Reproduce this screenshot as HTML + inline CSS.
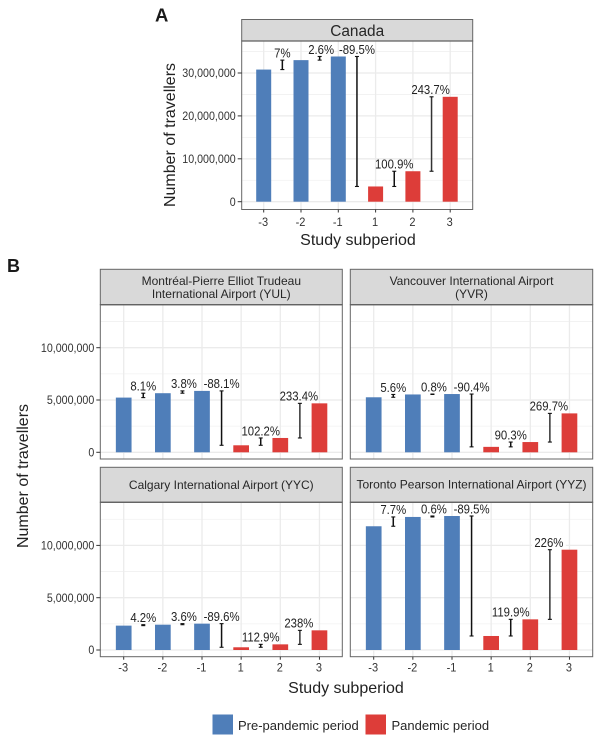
<!DOCTYPE html>
<html lang="en">
<head>
<meta charset="utf-8">
<title>Number of travellers by study subperiod</title>
<style>
html,body{margin:0;padding:0;background:#fff;}
svg{display:block;font-family:"Liberation Sans",sans-serif;filter:blur(0.3px);}
</style>
</head>
<body>
<svg id="chart" xmlns="http://www.w3.org/2000/svg" width="600" height="750" viewBox="0 0 600 750"></svg>
<script>
const categories = ['-3', '-2', '-1', '1', '2', '3'];
const canadaValues = [30.8, 33.0, 33.85, 3.55, 7.1, 24.45];
const yulValues = [5.23, 5.65, 5.87, 0.67, 1.37, 4.68];
const yvrValues = [5.26, 5.53, 5.57, 0.52, 0.98, 3.72];
const yycValues = [2.33, 2.42, 2.52, 0.26, 0.54, 1.88];
const yyzValues = [11.83, 12.72, 12.81, 1.34, 2.93, 9.59];
const canadaLabels = ['7%', '2.6%', '-89.5%', '100.9%', '243.7%'];
const yulLabels = ['8.1%', '3.8%', '-88.1%', '102.2%', '233.4%'];
const yvrLabels = ['5.6%', '0.8%', '-90.4%', '90.3%', '269.7%'];
const yycLabels = ['4.2%', '3.6%', '-89.6%', '112.9%', '238%'];
const yyzLabels = ['7.7%', '0.6%', '-89.5%', '119.9%', '226%'];
const canadaTicks = [0, 10, 20, 30];
const canadaTickLabels = ['0', '10,000,000', '20,000,000', '30,000,000'];
const airportTicks = [0, 5, 10];
const airportTickLabels = ['0', '5,000,000', '10,000,000'];
const haloLabels = ['238%', '226%'];

const NS = 'http://www.w3.org/2000/svg';
const svg = document.getElementById('chart');
const BLUE = '#4f7eb9', RED = '#dd3d39', BORDER = '#666', STRIP = '#d9d9d9', GRID = '#ebebeb';

function el(tag, attrs, name, parent) {
  const node = document.createElementNS(NS, tag);
  for (const k in attrs) node.setAttribute(k, attrs[k]);
  
  
  (parent || svg).appendChild(node);
  return node;
}
function txt(str, attrs, name, squeeze, parent) {
  const node = el('text', attrs, name, parent);
  node.textContent = str;
  if (squeeze && squeeze !== 1) {
    const w = node.getComputedTextLength();
    node.setAttribute('textLength', (w * squeeze).toFixed(2));
    node.setAttribute('lengthAdjust', 'spacingAndGlyphs');
  }
  return node;
}

function drawPanel(cfg) {
  const g = el('g', {}, 'panel-' + cfg.key);
  const xScale = i => cfg.x0 + i * cfg.dx;
  const yScale = v => cfg.y0 - v * cfg.unit;

  el('rect', {x: cfg.left, y: cfg.top, width: cfg.right - cfg.left, height: cfg.bottom - cfg.top, fill: '#fff'}, 'panel-background', g);

  // minor + major horizontal grid
  const step = cfg.ticks[1] - cfg.ticks[0];
  for (let v = step / 2; yScale(v) > cfg.top; v += step) {
    el('line', {x1: cfg.left, x2: cfg.right, y1: yScale(v), y2: yScale(v), stroke: '#f1f1f1', 'stroke-width': 0.8}, 'minor-gridline', g);
  }
  for (let v = 0; yScale(v) > cfg.top; v += step) {
    el('line', {x1: cfg.left, x2: cfg.right, y1: yScale(v), y2: yScale(v), stroke: GRID, 'stroke-width': 1.3}, 'major-gridline', g);
  }
  categories.forEach((c, i) => {
    el('line', {x1: xScale(i), x2: xScale(i), y1: cfg.top, y2: cfg.bottom, stroke: GRID, 'stroke-width': 1.3}, 'vertical-gridline', g);
  });

  // bars
  cfg.values.forEach((v, i) => {
    el('rect', {x: xScale(i) - cfg.barW / 2, y: yScale(v), width: cfg.barW, height: yScale(0) - yScale(v), fill: i < 3 ? BLUE : RED}, 'bar-' + cfg.key + '-' + categories[i], g);
  });

  // change brackets and labels
  cfg.labels.forEach((lab, i) => {
    const a = cfg.values[i], b = cfg.values[i + 1];
    const x = (xScale(i) + xScale(i + 1)) / 2;
    const yt = yScale(Math.max(a, b)), yb = yScale(Math.min(a, b));
    el('line', {x1: x, x2: x, y1: yt, y2: yb, stroke: i === 4 ? '#333' : '#111', 'stroke-width': 1.5}, 'change-bracket', g);
    el('line', {x1: x - 2, x2: x + 2, y1: yt, y2: yt, stroke: '#111', 'stroke-width': 1.1}, 'change-bracket-cap', g);
    el('line', {x1: x - 2, x2: x + 2, y1: yb, y2: yb, stroke: '#111', 'stroke-width': 1.1}, 'change-bracket-cap', g);
    const lx = x + (i === 1 ? 1.5 : (i === 4 ? -1 : 0));
    const ly = yt - 2.7;
    if (haloLabels.includes(lab)) {
      el('rect', {x: lx - 17, y: ly - 11, width: 34, height: 13, fill: '#fff'}, 'label-background', g);
    }
    txt(lab, {x: lx, y: ly, 'text-anchor': 'middle', 'font-size': 13.2, fill: '#222'}, 'change-label', 0.86, g);
  });

  // strip
  el('rect', {x: cfg.left, y: cfg.stripTop, width: cfg.right - cfg.left, height: cfg.top - cfg.stripTop, fill: STRIP, stroke: BORDER, 'stroke-width': 1}, 'strip-background', g);
  cfg.title.forEach((t, i) => {
    txt(t, {x: (cfg.left + cfg.right) / 2, y: cfg.titleY + i * cfg.titleLead, 'text-anchor': 'middle', 'font-size': cfg.titleSize, fill: '#262626'}, 'strip-title', 1, g);
  });
  el('line', {x1: cfg.left, x2: cfg.right, y1: cfg.top, y2: cfg.top, stroke: '#444', 'stroke-width': 1.2}, 'strip-divider', g);

  // border
  el('rect', {x: cfg.left, y: cfg.top, width: cfg.right - cfg.left, height: cfg.bottom - cfg.top, fill: 'none', stroke: BORDER, 'stroke-width': 1}, 'panel-border', g);

  // y axis
  if (cfg.showY) {
    cfg.ticks.forEach((v, i) => {
      el('line', {x1: cfg.left - 4, x2: cfg.left, y1: yScale(v), y2: yScale(v), stroke: '#333', 'stroke-width': 1}, 'y-tick', g);
      txt(cfg.tickLabels[i], {x: cfg.left - 6, y: yScale(v) + 4.2, 'text-anchor': 'end', 'font-size': 11.6, fill: '#333'}, 'y-tick-label', 0.92, g);
    });
  }
  // x axis
  if (cfg.showX) {
    categories.forEach((c, i) => {
      el('line', {x1: xScale(i), x2: xScale(i), y1: cfg.bottom, y2: cfg.bottom + 3, stroke: '#333', 'stroke-width': 1}, 'x-tick', g);
      txt(c, {x: xScale(i) - 0.5, y: cfg.bottom + cfg.xGap, 'text-anchor': 'middle', 'font-size': 11.6, fill: '#333'}, 'x-tick-label', 0.95, g);
    });
  }
}

drawPanel({key:'canada', values:canadaValues, labels:canadaLabels, ticks:canadaTicks, tickLabels:canadaTickLabels,
  left:241.7, right:472.7, stripTop:19.5, top:41, bottom:209.5, x0:263.7, dx:37.3, barW:15, y0:201.7, unit:4.29, xGap:16.5,
  title:['Canada'], titleY:36, titleLead:0, titleSize:15.4, showY:true, showX:true});

const airport = {ticks:airportTicks, tickLabels:airportTickLabels, dx:39.15, barW:15.7, unit:10.46, xGap:15, titleSize:12, titleLead:13};

drawPanel(Object.assign({}, airport, {key:'yul', values:yulValues, labels:yulLabels,
  left:100.3, right:342.3, stripTop:269.3, top:304.7, bottom:459, x0:123.7, y0:452.3,
  title:['Montréal-Pierre Elliot Trudeau','International Airport (YUL)'], titleY:285, showY:true, showX:false}));
drawPanel(Object.assign({}, airport, {key:'yvr', values:yvrValues, labels:yvrLabels,
  left:350.3, right:592.7, stripTop:269.3, top:304.7, bottom:459, x0:373.7, y0:452.3,
  title:['Vancouver International Airport','(YVR)'], titleY:285, showY:false, showX:false}));
drawPanel(Object.assign({}, airport, {key:'yyc', values:yycValues, labels:yycLabels,
  left:100.3, right:342.3, stripTop:467.3, top:502.3, bottom:656.7, x0:123.7, y0:650,
  title:['Calgary International Airport (YYC)'], titleY:489, showY:true, showX:true}));
drawPanel(Object.assign({}, airport, {key:'yyz', values:yyzValues, labels:yyzLabels,
  left:350.3, right:592.7, stripTop:467.3, top:502.3, bottom:656.7, x0:373.7, y0:650,
  title:['Toronto Pearson International Airport (YYZ)'], titleY:488.5, showY:false, showX:true}));

// Panel letters
txt('A', {x:155, y:21.7, 'font-size':18.5, 'font-weight':'bold', fill:'#1a1a1a'}, 'panel-letter-a', 1);
txt('B', {x:7, y:272, 'font-size':18, 'font-weight':'bold', fill:'#1a1a1a'}, 'panel-letter-b', 1);

// Axis titles
txt('Study subperiod', {x:358, y:245, 'text-anchor':'middle', 'font-size':16, fill:'#222'}, 'x-axis-title-a', 1);
txt('Number of travellers', {x:0, y:0, transform:'translate(175,135) rotate(-90)', 'text-anchor':'middle', 'font-size':16, fill:'#222'}, 'y-axis-title-a', 1);
txt('Study subperiod', {x:346, y:693, 'text-anchor':'middle', 'font-size':16, fill:'#222'}, 'x-axis-title-b', 1);
txt('Number of travellers', {x:0, y:0, transform:'translate(28,476) rotate(-90)', 'text-anchor':'middle', 'font-size':16, fill:'#222'}, 'y-axis-title-b', 1);

// Legend
const legend = el('g', {}, 'legend');
el('rect', {x:212.5, y:714.5, width:20.5, height:20, fill:BLUE}, 'legend-swatch-pre-pandemic', legend);
txt('Pre-pandemic period', {x:238, y:730, 'font-size':13, fill:'#262626'}, 'legend-label-pre-pandemic', 1, legend);
el('rect', {x:365.5, y:714.5, width:20.5, height:20, fill:RED}, 'legend-swatch-pandemic', legend);
txt('Pandemic period', {x:391.5, y:730, 'font-size':13, fill:'#262626'}, 'legend-label-pandemic', 1, legend);
</script>
</body>
</html>
